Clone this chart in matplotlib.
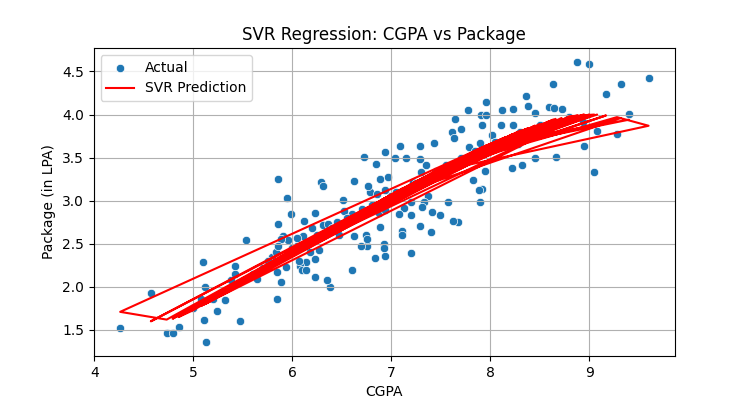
import matplotlib
matplotlib.use("Agg")
import matplotlib.pyplot as plt
import seaborn as sns

# rows kept in the same (unsorted) order as the data, so the line zig-zags
cgpa = [
    6.89, 5.10, 7.78, 5.85, 8.95, 7.11, 5.32, 7.49, 6.27, 8.12,
    6.60, 8.02, 4.26, 4.73, 7.43, 9.60, 9.28, 7.55, 7.29, 5.42,
    8.63, 5.99, 7.04, 7.92, 5.12, 8.45, 6.31, 6.78, 7.61, 7.79,
    9.00, 7.92, 6.94, 7.30, 5.53, 8.23, 5.89, 7.13, 7.95, 8.16,
    4.57, 7.90, 6.20, 6.74, 7.45, 9.17, 7.37, 5.84, 6.85, 8.50,
    5.38, 7.63, 6.14, 7.20, 8.88, 8.30, 7.41, 6.36, 6.62, 8.36,
    5.47, 7.96, 5.95, 6.93, 9.32, 7.70, 7.67, 6.08, 6.97, 8.66,
    5.60, 7.33, 5.79, 7.85, 9.40, 8.05, 7.83, 6.29, 7.08, 8.28,
    5.42, 7.57, 6.00, 6.75, 8.94, 5.13, 7.64, 6.23, 6.88, 8.22,
    5.20, 7.29, 5.91, 7.09, 8.59, 5.75, 7.89, 6.10, 8.80, 9.05,
    7.22, 7.35, 6.38, 6.94, 8.11, 5.45, 7.70, 5.85, 6.47, 8.72,
    5.70, 7.40, 5.96, 6.84, 8.32, 7.20, 5.64, 6.94, 8.38, 7.31,
    6.18, 7.90, 9.08, 7.62, 5.83, 6.72, 8.64, 7.91, 6.11, 6.62,
    8.45, 7.29, 5.94, 7.15, 8.23, 7.96, 6.35, 6.86, 7.25, 6.05,
    5.84, 6.93, 5.00, 4.85, 6.14, 7.11, 5.24, 6.12, 6.07, 6.89,
    6.52, 6.76, 6.23, 6.75, 5.08, 5.89, 7.20, 6.51, 5.85, 6.94,
    4.79, 6.23, 6.60, 6.69, 6.25, 6.70, 5.11, 6.40, 6.80, 6.45,
    7.00, 6.05, 7.05, 6.55, 6.31,
]

package = [
    3.25, 2.29, 4.05, 2.73, 3.64, 2.65, 1.85, 2.83, 2.43, 4.05,
    2.20, 3.76, 1.52, 1.47, 3.67, 4.43, 3.78, 3.42, 3.64, 2.24,
    4.36, 2.84, 3.50, 3.14, 2.00, 4.02, 2.72, 3.10, 3.80, 3.62,
    4.59, 3.88, 2.36, 3.33, 2.54, 3.88, 2.06, 2.92, 3.34, 3.63,
    1.93, 3.67, 2.68, 2.60, 3.35, 4.24, 3.06, 1.86, 3.43, 3.88,
    2.08, 3.73, 2.29, 2.39, 4.61, 3.80, 2.87, 2.73, 3.23, 4.21,
    1.60, 4.14, 3.03, 2.50, 4.36, 3.50, 2.75, 2.24, 3.27, 3.51,
    2.15, 2.98, 2.35, 3.58, 4.01, 3.68, 3.24, 3.22, 2.85, 3.66,
    2.15, 2.98, 2.45, 2.48, 3.91, 1.36, 3.95, 2.12, 2.86, 3.38,
    1.86, 3.48, 2.59, 3.64, 4.09, 2.30, 3.13, 2.20, 3.97, 3.33,
    3.22, 3.42, 2.00, 3.13, 3.88, 2.05, 3.83, 3.25, 2.60, 4.07,
    2.22, 2.64, 2.54, 2.34, 3.42, 2.98, 2.09, 3.57, 4.10, 2.93,
    2.40, 2.99, 3.81, 2.77, 2.41, 3.51, 4.08, 4.00, 2.59, 2.59,
    3.49, 2.71, 2.23, 3.49, 4.06, 3.99, 2.08, 3.08, 3.20, 2.57,
    2.17, 2.45, 1.75, 1.53, 2.19, 2.60, 1.72, 2.76, 2.30, 2.69,
    2.88, 3.17, 2.32, 2.56, 1.86, 2.55, 2.83, 3.01, 2.48, 2.89,
    1.47, 2.86, 2.85, 2.48, 2.60, 2.90, 1.61, 2.68, 2.95, 2.75,
    3.05, 2.48, 3.10, 2.80, 3.17,
]

# SVR output for each row
svr_pred = [
    2.99, 1.79, 3.54, 2.31, 4.00, 3.14, 1.94, 3.36, 2.60, 3.72,
    2.82, 3.67, 1.71, 1.62, 3.33, 3.87, 3.97, 3.40, 3.24, 2.01,
    3.94, 2.41, 3.09, 3.62, 1.80, 3.87, 2.63, 2.93, 3.44, 3.54,
    4.00, 3.62, 3.03, 3.25, 2.09, 3.77, 2.34, 3.15, 3.63, 3.74,
    1.60, 3.61, 2.56, 2.90, 3.34, 3.99, 3.29, 2.31, 2.97, 3.89,
    1.99, 3.45, 2.52, 3.19, 3.99, 3.81, 3.32, 2.66, 2.83, 3.83,
    2.05, 3.64, 2.38, 3.02, 3.96, 3.49, 3.47, 2.48, 3.05, 3.95,
    2.14, 3.27, 2.27, 3.58, 3.94, 3.68, 3.57, 2.61, 3.12, 3.80,
    2.01, 3.41, 2.42, 2.91, 4.00, 1.81, 3.45, 2.58, 2.99, 3.77,
    1.86, 3.24, 2.36, 3.12, 3.92, 2.25, 3.60, 2.49, 3.98, 4.00,
    3.20, 3.28, 2.67, 3.03, 3.71, 2.04, 3.49, 2.31, 2.73, 3.96,
    2.21, 3.31, 2.39, 2.96, 3.81, 3.19, 2.17, 3.03, 3.84, 3.26,
    2.55, 3.61, 4.00, 3.44, 2.30, 2.89, 3.94, 3.61, 2.50, 2.83,
    3.87, 3.24, 2.38, 3.16, 3.77, 3.64, 2.65, 2.98, 3.22, 2.46,
    2.31, 3.02, 1.73, 1.65, 2.52, 3.14, 1.89, 2.50, 2.47, 2.99,
    2.76, 2.92, 2.58, 2.91, 1.78, 2.34, 3.19, 2.76, 2.31, 3.03,
    1.63, 2.58, 2.82, 2.87, 2.59, 2.88, 1.80, 2.69, 2.94, 2.72,
    3.07, 2.46, 3.10, 2.78, 2.63,
]


def main() -> None:
    fig = plt.figure(figsize=(7.5, 4), dpi=100)
    sns.scatterplot(x=cgpa, y=package, label="Actual")
    plt.plot(cgpa, svr_pred, color="red", label="SVR Prediction")
    plt.title("SVR Regression: CGPA vs Package")
    plt.xlabel("CGPA")
    plt.ylabel("Package (in LPA)")
    plt.legend(loc="upper left")
    plt.grid(True)
    fig.savefig("out.png")


if __name__ == "__main__":
    main()
